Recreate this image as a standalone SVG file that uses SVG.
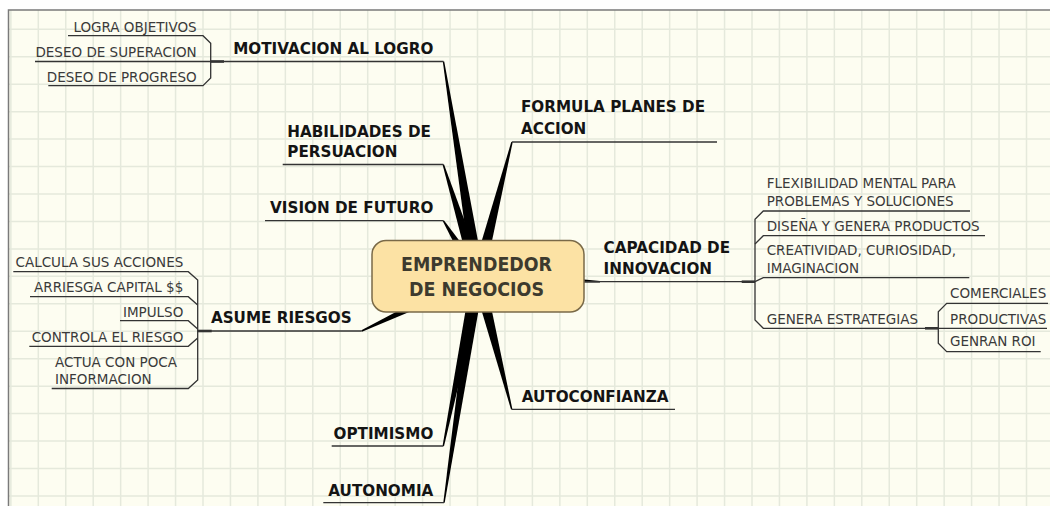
<svg xmlns="http://www.w3.org/2000/svg" width="1050" height="506" viewBox="0 0 1050 506">
<style>
.bg{fill:#fdfdf1}
.grid{fill:none;stroke:#e5e9dc;stroke-width:1.5}
.frame{fill:none;stroke:#7a7a7a;stroke-width:1.5}
.ln{fill:none;stroke:#333;stroke-width:1.3}
.jn{fill:none;stroke:#333;stroke-width:2.6}
.wedge{fill:#000}
.sm{font-family:"DejaVu Sans","Liberation Sans",sans-serif;font-size:13.5px;fill:#3a3a3a}
.br{font-family:"DejaVu Sans","Liberation Sans",sans-serif;font-size:15.2px;font-weight:bold;fill:#141414}
.title{font-family:"DejaVu Sans","Liberation Sans",sans-serif;font-size:20px;font-weight:bold;fill:#3d3a2e}
.nodebox{fill:#fce2a4;stroke:#7a6a48;stroke-width:1.5}
</style>
<rect x="0" y="0" width="1050" height="506" fill="#ffffff"/>
<rect class="bg" x="8.5" y="10" width="1041.5" height="496"/>
<path class="grid" d="M10.85 10V506M38.3 10V506M65.75 10V506M93.2 10V506M120.65 10V506M148.1 10V506M175.55 10V506M203 10V506M230.45 10V506M257.9 10V506M285.35 10V506M312.8 10V506M340.25 10V506M367.7 10V506M395.15 10V506M422.6 10V506M450.05 10V506M477.5 10V506M504.95 10V506M532.4 10V506M559.85 10V506M587.3 10V506M614.75 10V506M642.2 10V506M669.65 10V506M697.1 10V506M724.55 10V506M752 10V506M779.45 10V506M806.9 10V506M834.35 10V506M861.8 10V506M889.25 10V506M916.7 10V506M944.15 10V506M971.6 10V506M999.05 10V506M1026.5 10V506M8.5 29.3H1050M8.5 56.75H1050M8.5 84.2H1050M8.5 111.65H1050M8.5 139.1H1050M8.5 166.55H1050M8.5 194H1050M8.5 221.45H1050M8.5 248.9H1050M8.5 276.35H1050M8.5 303.8H1050M8.5 331.25H1050M8.5 358.7H1050M8.5 386.15H1050M8.5 413.6H1050M8.5 441.05H1050M8.5 468.5H1050M8.5 495.95H1050"/>
<path class="frame" d="M8.5 506V10H1050"/>

<g id="connectors">
  <g id="wedges">
    <polygon class="wedge" points="442.81,61.61 471.58,277.03 484.42,274.97 444.19,61.39"/>
    <polygon class="wedge" points="442.63,164.71 471.79,277.93 484.21,274.07 443.97,164.29"/>
    <polygon class="wedge" points="442.71,221.07 472.49,279.46 483.51,272.54 443.89,220.33"/>
    <polygon class="wedge" points="511.32,141.83 471.70,274.40 484.30,277.60 512.68,142.17"/>
    <polygon class="wedge" points="600.03,281.0 478.30,269.51 477.70,282.49 599.97,282.4"/>
    <polygon class="wedge" points="362.0,331.63 480.78,281.88 475.22,270.12 361.4,330.37"/>
    <polygon class="wedge" points="443.99,446.14 484.37,277.30 471.63,274.70 442.61,445.86"/>
    <polygon class="wedge" points="444.69,502.80 484.43,276.96 471.57,275.04 443.31,502.60"/>
    <polygon class="wedge" points="512.38,409.13 484.30,274.41 471.70,277.59 511.02,409.47"/>
  </g>
  <path class="ln" d="M68 35.7H203L210.7 43.3V78L203 85.7H48.3"/>
  <path class="ln" d="M35 61.5H443.5"/>
  <path class="jn" d="M210.7 61.5H224"/>
  <path class="ln" d="M282.7 164.5H443.3"/>
  <path class="ln" d="M265 220.7H443.3"/>
  <path class="ln" d="M512 142H717"/>
  <path class="ln" d="M584 281.7H755"/>
  <path class="jn" d="M741.7 281.7H755"/>
  <path class="ln" d="M970 211H763.3L755 219.3V320L763.3 328.3H1047"/>
  <path class="ln" d="M985 235.7H763.3L755 244"/>
  <path class="ln" d="M969.3 277.7H763.3L755 281.7"/>
  <path class="jn" d="M925 328.3H938.3"/>
  <path class="ln" d="M1048 303.3H946.7L938.3 311.7V343.3L946.7 351.7H1040.7"/>
  <path class="ln" d="M13.3 271.7H188.3L197.7 280V380L188.3 388.5H51.7"/>
  <path class="ln" d="M30 296.7H188.3L197.7 305"/>
  <path class="ln" d="M120 320.7H188.3L197.7 329"/>
  <path class="ln" d="M29.3 346.3H188.3L197.7 338"/>
  <path class="ln" d="M197.7 331H361.7"/>
  <path class="jn" d="M197.7 331H211.7"/>
  <path class="ln" d="M331.7 446H443.3"/>
  <path class="ln" d="M323.3 502.7H444"/>
  <path class="ln" d="M511.7 409.3H675"/>
</g>

<g id="central">
  <rect class="nodebox" x="372" y="240.5" width="212" height="71.5" rx="14" ry="14"/>
  <text class="title" x="476.5" y="270.7" text-anchor="middle" textLength="151" lengthAdjust="spacingAndGlyphs">EMPRENDEDOR</text>
  <text class="title" x="476.5" y="296" text-anchor="middle" textLength="135" lengthAdjust="spacingAndGlyphs">DE NEGOCIOS</text>
</g>

<g id="motivacion">
  <text class="br" x="433.3" y="54.3" text-anchor="end">MOTIVACION AL LOGRO</text>
</g>
<g id="logra-objetivos"><text class="sm" x="196.7" y="32.3" text-anchor="end">LOGRA OBJETIVOS</text></g>
<g id="deseo-superacion"><text class="sm" x="196.7" y="56.7" text-anchor="end">DESEO DE SUPERACION</text></g>
<g id="deseo-progreso"><text class="sm" x="196.7" y="81.7" text-anchor="end">DESEO DE PROGRESO</text></g>

<g id="habilidades">
  <text class="br" x="287.3" y="136.7">HABILIDADES DE</text>
  <text class="br" x="287.3" y="156.7">PERSUACION</text>
</g>
<g id="vision"><text class="br" x="433.3" y="213.3" text-anchor="end">VISION DE FUTURO</text></g>

<g id="formula">
  <text class="br" x="521" y="112.3">FORMULA PLANES DE</text>
  <text class="br" x="521" y="134">ACCION</text>
</g>

<g id="capacidad">
  <text class="br" x="603.6" y="252.7">CAPACIDAD DE</text>
  <text class="br" x="603.6" y="274.3">INNOVACION</text>
</g>
<g id="flexibilidad">
  <text class="sm" x="766.7" y="188.3">FLEXIBILIDAD MENTAL PARA</text>
  <text class="sm" x="766.7" y="205.7">PROBLEMAS Y SOLUCIONES</text>
</g>
<g id="disena"><text class="sm" x="766.7" y="230.7">DISEÑA Y GENERA PRODUCTOS</text></g>
<g id="creatividad">
  <text class="sm" x="766.7" y="255">CREATIVIDAD, CURIOSIDAD,</text>
  <text class="sm" x="766.7" y="273.3">IMAGINACION</text>
</g>
<g id="genera"><text class="sm" x="766.7" y="324">GENERA ESTRATEGIAS</text></g>
<g id="comerciales"><text class="sm" x="950" y="298.3">COMERCIALES</text></g>
<g id="productivas"><text class="sm" x="950" y="324">PRODUCTIVAS</text></g>
<g id="genran"><text class="sm" x="950" y="346">GENRAN ROI</text></g>

<g id="asume"><text class="br" x="351.7" y="323.3" text-anchor="end">ASUME RIESGOS</text></g>
<g id="calcula"><text class="sm" x="183.3" y="267.3" text-anchor="end">CALCULA SUS ACCIONES</text></g>
<g id="arriesga"><text class="sm" x="183.3" y="292.3" text-anchor="end">ARRIESGA CAPITAL $$</text></g>
<g id="impulso"><text class="sm" x="183.3" y="316.7" text-anchor="end">IMPULSO</text></g>
<g id="controla"><text class="sm" x="183.3" y="341.7" text-anchor="end">CONTROLA EL RIESGO</text></g>
<g id="actua">
  <text class="sm" x="55" y="366.7">ACTUA CON POCA</text>
  <text class="sm" x="55" y="384">INFORMACION</text>
</g>

<g id="autoconfianza"><text class="br" x="521.7" y="401.7">AUTOCONFIANZA</text></g>
<g id="optimismo"><text class="br" x="433.3" y="439.3" text-anchor="end">OPTIMISMO</text></g>
<g id="autonomia"><text class="br" x="433.3" y="496" text-anchor="end">AUTONOMIA</text></g>
</svg>
